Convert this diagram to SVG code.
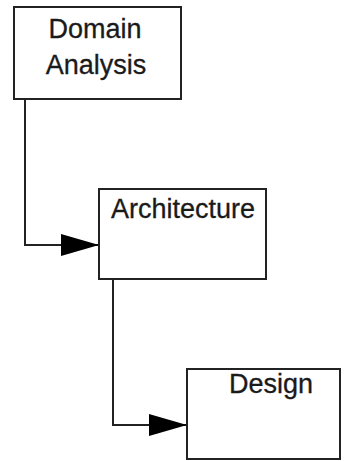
<svg xmlns="http://www.w3.org/2000/svg" width="344" height="461" viewBox="0 0 344 461">
<style>
.box{fill:#fff;stroke:#222;stroke-width:2}
.lbl{font-family:"Liberation Sans",Arial,sans-serif;font-size:27px;fill:#1a1a1a;text-anchor:middle;stroke:#1a1a1a;stroke-width:0.3}
.conn{fill:none;stroke:#222;stroke-width:2}
</style>
<defs>
<marker id="arr" markerUnits="userSpaceOnUse" markerWidth="38" markerHeight="22" refX="38" refY="11" orient="auto">
<path d="M0,0 L38,11 L0,22 Z" fill="#000"/>
</marker>
</defs>
<rect width="344" height="461" fill="#fff"/>
<g id="domain-analysis">
<rect class="box" x="14" y="7" width="167" height="92"/>
<text class="lbl" x="95" y="38">Domain</text>
<text class="lbl" x="96" y="74">Analysis</text>
</g>
<g id="architecture">
<rect class="box" x="99" y="189" width="167" height="90"/>
<text class="lbl" x="183" y="218">Architecture</text>
</g>
<g id="design">
<rect class="box" x="187" y="369" width="153" height="90"/>
<text class="lbl" x="271" y="393">Design</text>
</g>
<g id="connectors">
<path class="conn" d="M25,99 V245 H99" marker-end="url(#arr)"/>
<path class="conn" d="M113,279 V425 H187" marker-end="url(#arr)"/>
</g>
</svg>
